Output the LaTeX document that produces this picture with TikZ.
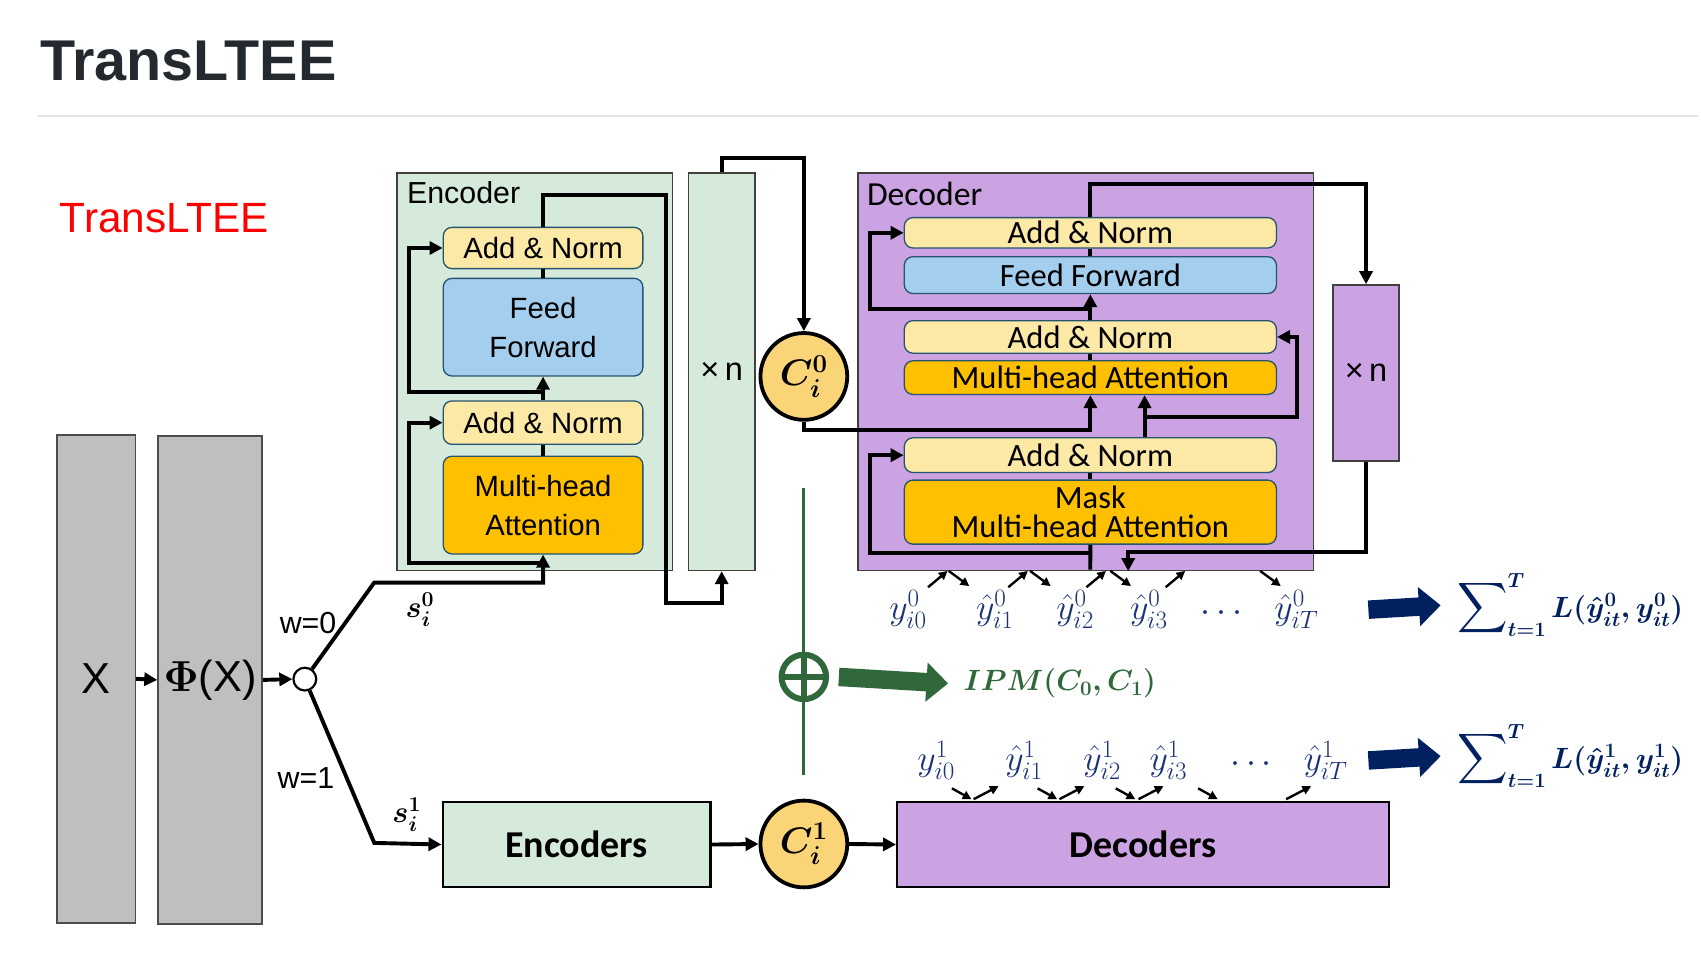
\documentclass[tikz,border=0pt]{standalone}
\usepackage{fix-cm}
\usepackage{amsmath}
\usepackage{fontspec}
\setmainfont{Liberation Sans}
\newfontfamily\calfont{Carlito}
\usetikzlibrary{arrows.meta}

\definecolor{encgreen}{RGB}{213,234,219}
\definecolor{decpurple}{RGB}{203,162,226}
\definecolor{normyellow}{RGB}{253,233,166}
\definecolor{ffblue}{RGB}{164,206,238}
\definecolor{attorange}{RGB}{255,192,0}
\definecolor{boxline}{RGB}{38,84,112}
\definecolor{cfill}{RGB}{250,213,120}
\definecolor{ipmgreen}{RGB}{48,104,60}
\definecolor{navy}{RGB}{0,32,96}
\definecolor{ylab}{RGB}{25,50,120}
\definecolor{inputgray}{RGB}{191,191,191}
\definecolor{titlegray}{RGB}{36,41,47}
\definecolor{rulegray}{RGB}{225,228,232}

\tikzset{
  panel/.style={draw=black!75, line width=1.5pt, anchor=north west, inner sep=0pt},
  encpanel/.style={panel, fill=encgreen},
  decpanel/.style={panel, fill=decpurple},
  inbox/.style={panel, fill=inputgray, draw=black!70, font=\fontsize{40}{40}\selectfont},
  blk/.style={draw=boxline, line width=1.2pt, rounded corners=8pt, anchor=north west, inner sep=0pt, align=center},
  encblk/.style={blk, minimum width=184pt, font=\fontsize{27}{36}\selectfont},
  decblk/.style={blk, minimum width=343pt, font=\calfont\fontsize{30}{27}\selectfont},
  norm/.style={fill=normyellow},
  ffn/.style={fill=ffblue},
  att/.style={fill=attorange},
  cnode/.style={circle, draw=black, line width=3.5pt, fill=cfill, minimum size=80pt, inner sep=0pt, font=\fontsize{34}{34}\selectfont},
  conn/.style={line width=3.6pt},
  arr/.style={conn, -{Triangle[length=12pt,width=12pt]}},
  yarr/.style={line width=2.2pt, -{Triangle[length=8pt,width=8pt]}},
  ylbl/.style={text=ylab, inner sep=0pt, font=\fontsize{33}{33}\selectfont},
  lbl/.style={font=\fontsize{28}{28}\selectfont},
  sumlbl/.style={anchor=west, inner sep=0pt, text=navy, font=\fontsize{27}{27}\selectfont},
  bigarr/.style={line width=17pt, -{Triangle[length=20pt,width=35pt]}}
}

\begin{document}
\begin{tikzpicture}[x=1pt, y=-1pt]
\useasboundingbox (0,0) rectangle (1568,882);

\node[anchor=base west, inner sep=0pt, text=titlegray, font=\fontsize{53}{53}\bfseries\selectfont] (title) at (37,74) {TransLTEE};
\draw[rulegray, line width=2pt] (35,107) -- (1565,107);
\node[anchor=base west, inner sep=0pt, text=red, font=\fontsize{39}{39}\selectfont] (subtitle) at (55,214) {TransLTEE};

\node[inbox, minimum width=72pt, minimum height=450pt] (xin) at (52,400) {X};
\node[inbox, minimum width=96pt, minimum height=450pt] (phix) at (145,401) {$\boldsymbol{\Phi}$(X)};
\node[circle, draw, line width=2pt, fill=white, minimum size=21pt, inner sep=0pt] (split) at (281,626) {};
\node[lbl] (w0) at (284,574) {w=0};
\node[lbl] (w1) at (282,717) {w=1};
\node[lbl] (s0) at (387,562) {$\boldsymbol{s_i^0}$};
\node[lbl] (s1) at (375,751) {$\boldsymbol{s_i^1}$};

\node[encpanel, minimum width=254pt, minimum height=366pt] (enc) at (365,159) {};
\node[anchor=north west, inner sep=0pt, font=\fontsize{28}{28}\selectfont] (enclbl) at (375,167) {Encoder};
\node[encblk, norm, minimum height=38pt] (encan2) at (408,209) {Add \& Norm};
\node[encblk, ffn, minimum height=90pt] (encff) at (408,256) {Feed\\Forward};
\node[encblk, norm, minimum height=40pt] (encan1) at (408,369) {Add \& Norm};
\node[encblk, att, minimum height=90pt] (encmha) at (408,420) {Multi-head\\Attention};
\node[encpanel, minimum width=61pt, minimum height=366pt, font=\fontsize{30}{30}\selectfont] (encrep) at (634,159) {×\,n};

\node[cnode] (c0) at (741,347) {$\boldsymbol{C_i^0}$};

\node[decpanel, minimum width=420pt, minimum height=366pt] (dec) at (790,159) {};
\node[anchor=north west, inner sep=0pt, font=\calfont\fontsize{31}{31}\selectfont] (declbl) at (799,168) {Decoder};
\node[decblk, norm, minimum height=28pt] (decan3) at (833,200) {Add \& Norm};
\node[decblk, ffn, minimum height=34pt] (decff) at (833,236) {Feed Forward};
\node[decblk, norm, minimum height=30pt] (decan2) at (833,295) {Add \& Norm};
\node[decblk, att, minimum height=31pt] (decmha) at (833,332) {Multi-head Attention};
\node[decblk, norm, minimum height=32pt] (decan1) at (833,403) {Add \& Norm};
\node[decblk, att, minimum height=59pt] (decmask) at (833,442) {Mask\\Multi-head Attention};
\node[decpanel, minimum width=61pt, minimum height=162pt, font=\fontsize{30}{30}\selectfont] (decrep) at (1228,262) {×\,n};

\node[encpanel, draw=black, line width=2pt, minimum width=247pt, minimum height=79pt, font=\calfont\bfseries\fontsize{35}{35}\selectfont] (encs) at (407,738) {Encoders};
\node[cnode] (c1) at (741,778) {$\boldsymbol{C_i^1}$};
\node[decpanel, draw=black, line width=2pt, minimum width=453pt, minimum height=79pt, font=\calfont\bfseries\fontsize{35}{35}\selectfont] (decs) at (826,738) {Decoders};

\coordinate (s0bend) at (345,537);
\coordinate (s1bend) at (345,777);
\coordinate (encres1) at (500,519);
\coordinate (encres2) at (500,361);
\coordinate (encup) at (614,180);
\coordinate (encdown) at (614,556);
\coordinate (decin) at (1005,525);
\coordinate (decres1) at (1005,510);
\coordinate (decres2) at (1054,384);
\coordinate (decres3) at (1005,285);
\coordinate (decback) at (1040,509);

\draw[arr] (xin.east) -- (phix.west);
\draw[arr] (phix.east) -- (split.west);
\draw[arr] (split) -- (s0bend) -| (encmha.south);
\draw[arr] (split) -- (s1bend) -- (encs.west);
\draw[arr] (encres1) -| ([xshift=-31pt]encan1.west) -- (encan1.west);
\draw[conn] (encmha.north) -- (encan1.south);
\draw[arr] (encan1.north) -- (encff.south);
\draw[arr] (encres2) -| ([xshift=-31pt]encan2.west) -- (encan2.west);
\draw[conn] (encff.north) -- (encan2.south);
\draw[arr] (encan2.north) |- (encup) -- (encdown) -| (encrep.south);
\draw[arr] (encrep.north) -- ++(0,-13) -| (c0.north);
\draw[arr] (c0.south) -- ++(0,8) -| (decmha.south);

\draw[conn] (decin) -- (decmask.south);
\draw[arr] (decres1) -| ([xshift=-31pt]decan1.west) -- (decan1.west);
\draw[conn] (decmask.north) -- (decan1.south);
\draw[arr] ([xshift=50pt]decan1.north) -- ([xshift=50pt]decmha.south);
\draw[arr] (decres2) -| ([xshift=18pt]decan2.east) -- (decan2.east);
\draw[conn] (decmha.north) -- (decan2.south);
\draw[arr] (decan2.north) -- (decff.south);
\draw[arr] (decres3) -| ([xshift=-31pt]decan3.west) -- (decan3.west);
\draw[conn] (decff.north) -- (decan3.south);
\draw[arr] (decan3.north) -- ++(0,-30) -| (decrep.north);
\draw[arr] (decrep.south) |- (decback) -- (decback |- dec.south);

\draw[arr] (encs.east) -- (c1.west);
\draw[arr] (c1.east) -- (decs.west);

\coordinate (gtop) at (741,450);
\coordinate (gbot) at (741,714);
\draw[ipmgreen, line width=3pt] (gtop) -- (gbot);
\node[circle, draw=ipmgreen, line width=5.5pt, fill=white, minimum size=41pt, inner sep=0pt] (opl) at (741,624) {};
\draw[ipmgreen, line width=5.5pt] (opl.north) -- (opl.south) (opl.west) -- (opl.east);
\node[anchor=west, inner sep=0pt, text=ipmgreen, font=\fontsize{27}{27}\selectfont] (ipm) at (888,630) {$\boldsymbol{IPM(C_0,C_1)}$};
\draw[ipmgreen, bigarr] ([xshift=9pt]opl.east) -- ([xshift=-14pt]ipm.west);

\node[ylbl] (y00) at (837,562) {$y^0_{i0}$};
\node[ylbl] (y01) at (917,562) {$\hat{y}^0_{i1}$};
\node[ylbl] (y02) at (991,562) {$\hat{y}^0_{i2}$};
\node[ylbl] (y03) at (1059,562) {$\hat{y}^0_{i3}$};
\node[ylbl] (ydots0) at (1129,566) {$\cdots$};
\node[ylbl] (y0T) at (1195,562) {$\hat{y}^0_{iT}$};
\node[ylbl] (y10) at (863,701) {$y^1_{i0}$};
\node[ylbl] (y11) at (944,701) {$\hat{y}^1_{i1}$};
\node[ylbl] (y12) at (1016,701) {$\hat{y}^1_{i2}$};
\node[ylbl] (y13) at (1077,701) {$\hat{y}^1_{i3}$};
\node[ylbl] (ydots1) at (1156,705) {$\cdots$};
\node[ylbl] (y1T) at (1222,701) {$\hat{y}^1_{iT}$};

\foreach \a/\b/\ua/\db in {y00/y01/1/-25,y01/y02/-5/-24,y02/y03/-7/-18,y03/y0T/-2/-13}{
  \draw[yarr] ([shift={(\ua,-3)}]\a.north east) -- ++(18,-15);
  \draw[yarr] ([shift={(\db,-18)}]\b.north west) -- ++(19,14);
}
\foreach \a/\b/\da/\ub in {y10/y11/-3/-29,y11/y12/-5/-22,y12/y13/-5/-10,y13/y1T/10/-16}{
  \draw[yarr] ([shift={(\da,8)}]\a.south east) -- ++(18,10);
  \draw[yarr] ([shift={(\ub,18)}]\b.south west) -- ++(23,-12);
}

\node[sumlbl] (sum0) at (1343,558) {$\mathop{\scalebox{1.3}{$\displaystyle\sum$}}\nolimits_{\boldsymbol{t=1}}^{\boldsymbol{T}}\boldsymbol{L(\hat{y}^0_{it}, y^0_{it})}$};
\node[sumlbl] (sum1) at (1343,697) {$\mathop{\scalebox{1.3}{$\displaystyle\sum$}}\nolimits_{\boldsymbol{t=1}}^{\boldsymbol{T}}\boldsymbol{L(\hat{y}^1_{it}, y^1_{it})}$};
\draw[navy, bigarr] ([xshift=46pt]y0T.east) -- ([xshift=-15pt]sum0.west);
\draw[navy, bigarr] ([xshift=19pt]y1T.east) -- ([xshift=-15pt]sum1.west);
\end{tikzpicture}
\end{document}
